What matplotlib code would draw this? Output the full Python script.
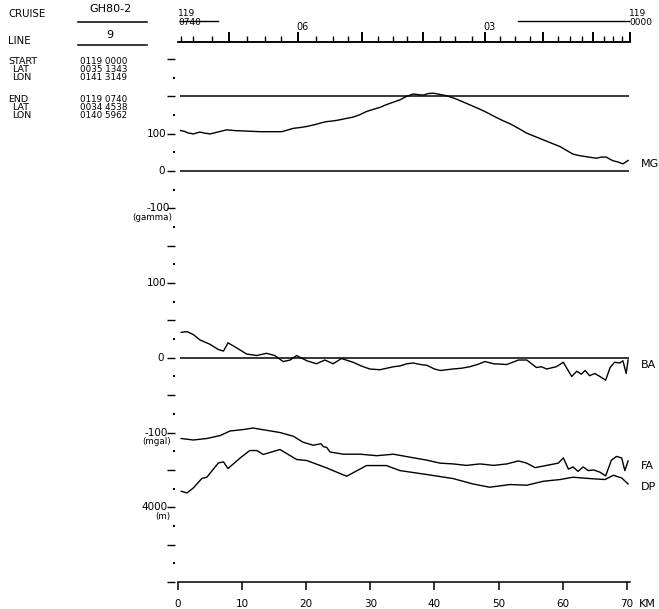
import matplotlib
matplotlib.use("Agg")
import matplotlib.pyplot as plt
import matplotlib.transforms as mtransforms
from matplotlib.lines import Line2D

# ---- data ----
# magnetics (gamma)
mg_km = [0.4, 1.0, 1.5, 2.4, 3.4, 4.2, 5.0, 6.2, 7.6, 8.8, 10.2, 11.5, 12.8, 14.5,
         16.2, 17.0, 18.0, 19.0, 20.1, 21.6, 22.4, 23.2, 24.3, 25.3, 26.4, 27.3,
         28.3, 29.4, 30.5, 31.5, 32.3, 33.1, 34.6, 35.6, 36.7, 37.5, 38.3, 39.0,
         39.8, 40.8, 41.9, 43.0, 44.0, 45.5, 47.1, 48.1, 49.2, 50.5, 51.8, 53.1,
         54.4, 55.7, 57.0, 58.3, 59.6, 60.6, 61.6, 62.6, 63.7, 64.5, 65.3, 66.0,
         66.8, 67.4, 67.9, 68.6, 69.4, 70.2]
mg_val = [108, 106, 102, 99, 104, 101, 99, 104, 110, 108, 107, 106, 105, 105,
          105, 109, 114, 116, 119, 125, 129, 132, 134, 137, 141, 144,
          150, 159, 165, 170, 176, 181, 190, 199, 206, 204, 203, 207,
          208, 205, 201, 195, 188, 177, 165, 157, 147, 136, 126, 114,
          101, 92, 83, 74, 65, 55, 45, 41, 38, 36, 34, 37,
          37, 31, 27, 24, 19, 28]

# bouguer anomaly (mgal)
ba_km = [0.5, 1.4, 2.4, 3.4, 5.0, 6.3, 7.1, 7.8, 9.2, 10.7, 12.3, 13.8, 15.1, 16.4,
         17.5, 18.5, 20.1, 21.6, 22.9, 24.2, 25.5, 27.3, 28.6, 29.9, 31.5, 33.6,
         34.6, 35.7, 36.7, 37.8, 38.8, 40.0, 40.9, 42.9, 44.2, 45.5, 46.7, 47.9,
         49.2, 51.3, 53.1, 54.4, 55.9, 56.7, 57.5, 59.0, 60.1, 61.4, 62.2, 62.9,
         63.5, 64.2, 65.0, 65.8, 66.7, 67.4, 68.1, 68.9, 69.4, 69.9, 70.2]
ba_val = [34, 35, 31, 24, 18, 11, 9, 20, 13, 5, 3, 6, 3, -5,
          -3, 3, -4, -8, -3, -8, -1, -6, -11, -15, -16, -12,
          -11, -8, -7, -9, -10, -15, -17, -15, -14, -12, -9, -5,
          -8, -9, -3, -3, -13, -12, -15, -12, -6, -25, -18, -22,
          -17, -24, -21, -25, -30, -13, -6, -7, -4, -21, -3]

# free-air anomaly (mgal)
fa_km = [0.5, 2.4, 4.5, 6.6, 8.1, 10.2, 11.7, 13.8, 15.9, 18.0, 19.5, 21.1, 22.3,
         22.7, 23.2, 23.7, 25.8, 28.4, 31.0, 33.6, 36.2, 38.8, 40.9, 42.9, 45.0,
         47.1, 49.2, 51.3, 53.1, 54.4, 55.7, 57.5, 59.3, 60.1, 60.9, 61.6, 62.4,
         63.2, 64.0, 64.8, 65.8, 66.7, 67.6, 68.4, 69.2, 69.7, 70.2]
fa_val = [-108, -110, -108, -104, -98, -96, -94, -97, -100, -105, -113, -117, -115,
          -119, -120, -126, -129, -129, -131, -129, -133, -137, -141, -142, -144,
          -142, -144, -142, -138, -141, -147, -144, -141, -134, -149, -146, -152,
          -146, -151, -150, -153, -158, -137, -132, -134, -151, -138]

# depth (m)
dp_km = [0.5, 1.4, 2.4, 3.7, 4.5, 6.3, 7.1, 7.8, 9.7, 11.2, 12.3, 13.3, 15.9, 18.5,
         20.1, 23.2, 26.3, 29.4, 32.5, 34.6, 38.8, 42.9, 46.0, 48.6, 51.8, 54.4,
         57.0, 59.6, 61.6, 64.2, 66.6, 67.9, 69.2, 70.2]
dp_val = [3786, 3808, 3741, 3616, 3598, 3407, 3393, 3482, 3340, 3241, 3241, 3294,
          3227, 3361, 3375, 3474, 3585, 3442, 3442, 3509, 3562, 3616, 3688, 3732,
          3696, 3705, 3652, 3629, 3598, 3616, 3629, 3572, 3608, 3688]

# time marks along the track (km), day 119
quarter_km = [0.47, 2.34, 5.30, 10.76, 13.56, 16.06, 21.52, 24.17, 26.50, 31.18,
              33.52, 35.70, 40.85, 43.19, 45.84, 50.20, 52.54, 54.88, 59.25,
              61.12, 62.99, 66.42, 67.82, 69.22]
hour_km = [7.95, 18.71, 28.69, 38.20, 47.86, 56.91, 64.70, 70.47]
hour_labels = {18.71: "06", 47.86: "03"}

km_ticks = [0, 10, 20, 30, 40, 50, 60, 70]

header = [("START", "0119 0000"), ("LAT", "0035 1343"), ("LON", "0141 3149"),
          ("END", "0119 0740"), ("LAT", "0034 4538"), ("LON", "0140 5962")]

W, H = 659, 609
fig = plt.figure(figsize=(W / 100, H / 100), dpi=100)
fig.patch.set_facecolor("white")
plt.rcParams['font.family'] = ['DejaVu Sans']


def fx(px):
    return px / W


def fy(py):
    return 1 - py / H


# base axes in MG units; y=-1100 at bottom, 345 at the time line
x0, x1 = 178, 630
yb, yt = 582, 42
ax = fig.add_axes([fx(x0), fy(yb), (x1 - x0) / W, (yb - yt) / H])
ax.set_xlim(0, 70.5)
ax.set_ylim(-1100, 345)
ax.patch.set_alpha(0)
for s in ["left", "right"]:
    ax.spines[s].set_visible(False)
ax.spines["bottom"].set_linewidth(1.1)
ax.spines["top"].set_linewidth(1.1)
ax.spines["left"].set_position(("outward", 2))

ax.set_yticks(range(300, -1101, -100))
ax.set_yticks(range(250, -1100, -100), minor=True)
ax.tick_params(axis="y", which="major", length=6, width=1.0, labelleft=False)
ax.tick_params(axis="y", which="minor", length=1.5, width=1.5)

ax.set_xticks(km_ticks)
ax.set_xticklabels([str(k) for k in km_ticks])
ax.tick_params(axis="x", which="major", length=6, width=1.1, pad=6, labelsize=7.5)
ax.tick_params(axis="x", top=False)

# time axis on top
top = ax.secondary_xaxis("top")
top.set_xticks(hour_km)
top.set_xticks(quarter_km, minor=True)
top.set_xticklabels([])
top.tick_params(which="major", length=7, width=1.4)
top.tick_params(which="minor", length=4, width=1.0)
top.spines["top"].set_linewidth(1.1)

trans_top = mtransforms.blended_transform_factory(ax.transData, ax.transAxes)
for k, lab in hour_labels.items():
    ax.text(k - 0.3, 1.028, lab, transform=trans_top, ha="left", va="center",
            fontsize=7)
ax.text(0, 1.052, "119", transform=trans_top, ha="left", va="center", fontsize=6.5)
ax.text(0, 1.036, "0740", transform=trans_top, ha="left", va="center", fontsize=6.5)
ax.text(70.4, 1.052, "119", transform=trans_top, ha="left", va="center", fontsize=6.5)
ax.text(70.4, 1.036, "0000", transform=trans_top, ha="left", va="center", fontsize=6.5)
ax.plot([0.3, 6.2], [1.039, 1.039], transform=trans_top, color="black", lw=1.0,
        clip_on=False)
ax.plot([53.0, 70.3], [1.039, 1.039], transform=trans_top, color="black", lw=1.0,
        clip_on=False)

# MG on the base axes
ax.hlines([200, 0], 0.3, 70.3, color="black", lw=1.1)
ax.plot(mg_km, mg_val, color="black", lw=1.0)

# gravity axes: 0 mgal at MG -500, 1 mgal = 2 gamma
axg = ax.twinx()
axg.set_ylim((-1100 + 500) / 2, (345 + 500) / 2)
axg.axis("off")
axg.hlines(0, 0.3, 70.3, color="black", lw=1.1)
axg.plot(ba_km, ba_val, color="black", lw=1.0)
axg.plot(fa_km, fa_val, color="black", lw=1.0)

# depth axes: 4000 m at MG -900, 500 m = 100 gamma, downward
axd = ax.twinx()
axd.set_ylim(4000 - (-1100 + 900) * 5, 4000 - (345 + 900) * 5)
axd.axis("off")
axd.plot(dp_km, dp_val, color="black", lw=1.0)

# left scale labels
trans_l = mtransforms.blended_transform_factory(ax.transAxes, ax.transData)


def lab(px_right, mg_y, txt, sub=None):
    xa = (px_right - x0) / (x1 - x0)
    ax.text(xa, mg_y, txt, transform=trans_l, ha="right", va="center", fontsize=7.5)
    if sub:
        ax.text(xa + 0.006, mg_y - 24, sub, transform=trans_l, ha="right",
                va="center", fontsize=6.3)


lab(166, 100, "100")
lab(165, 0, "0")
lab(170, -100, "-100", "(gamma)")
lab(166, -300, "100")
lab(164, -500, "0")
lab(168, -700, "-100", "(mgal)")
lab(168, -900, "4000", "(m)")

# curve names on the right
for name, py in [("MG", 164), ("BA", 365), ("FA", 466), ("DP", 487)]:
    fig.text(fx(641), fy(py), name, ha="left", va="center", fontsize=8)
fig.text(fx(639), fy(604), "KM", ha="left", va="center", fontsize=8)

# header block
fig.text(fx(8), fy(14), "CRUISE", ha="left", va="center", fontsize=7.3)
fig.text(fx(110), fy(9), "GH80-2", ha="center", va="center", fontsize=8)
fig.add_artist(Line2D([fx(78), fx(147)], [fy(22), fy(22)], color="black", lw=1.1))
fig.text(fx(8), fy(41), "LINE", ha="left", va="center", fontsize=7.3)
fig.text(fx(110), fy(35), "9", ha="center", va="center", fontsize=8)
fig.add_artist(Line2D([fx(78), fx(147)], [fy(45), fy(45)], color="black", lw=1.1))

rows_y = [62, 70, 78, 100, 108, 116]
for (name, val), py in zip(header, rows_y):
    xn = 8 if name in ("START", "END") else 12
    fig.text(fx(xn), fy(py), name, ha="left", va="center", fontsize=6.8)
    fig.text(fx(80), fy(py), val, ha="left", va="center", fontsize=6.3)

fig.savefig("out.png", dpi=100, facecolor="white")
